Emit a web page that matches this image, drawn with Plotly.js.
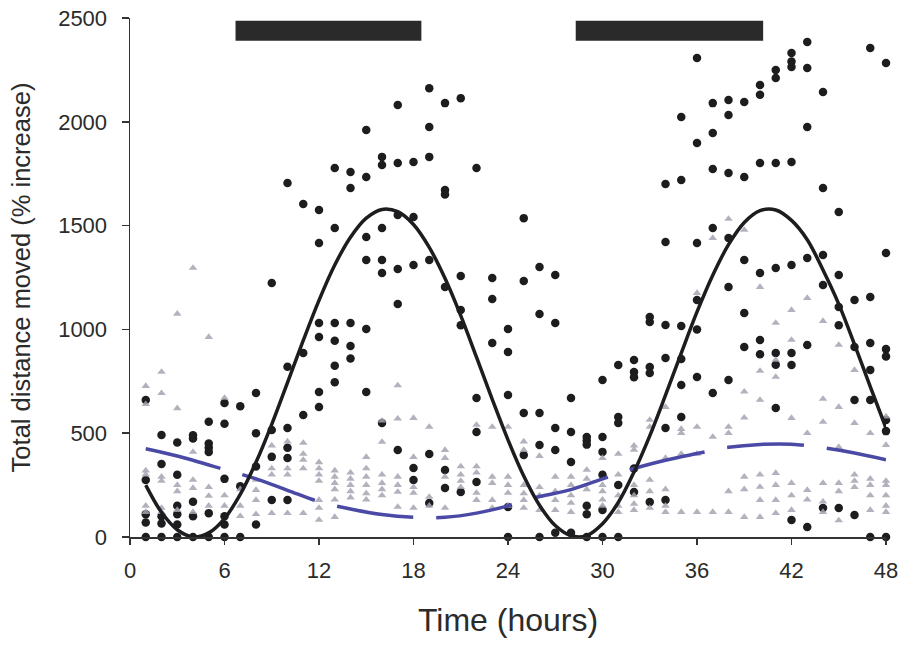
<!DOCTYPE html>
<html>
<head>
<meta charset="utf-8">
<script src="https://cdn.plot.ly/plotly-3.0.1.min.js"></script>
<style>html,body{margin:0;padding:0;background:#fff;}#chart{width:901px;height:646px;}</style>
</head>
<body>
<div id="chart"></div>
<script>
// Hours 1..48 (index = hour - 1)
const hours = [1,2,3,4,5,6,7,8,9,10,11,12,13,14,15,16,17,18,19,20,21,22,23,24,25,26,27,28,29,30,31,32,33,34,35,36,37,38,39,40,41,42,43,44,45,46,47,48];

const blackByHour = [
  [660,275,110,70,0],[491,352,100,65,0],[455,300,150,110,60,0],[490,475,170,100,0],
  [555,450,430,410,115,0],[645,545,280,100,60,0],[630,245,0],[694,500,340,60],
  [1223,515,386,178],[1705,820,525,430,380,178],[1604,886,588],[1575,1416,1031,963,698,626],
  [1777,1488,1031,945,825,745],[1758,1681,1031,920,860],[1960,1734,1445,1334,1002,698],[1831,1792,1488,1334,1272,549],
  [2081,1801,1551,1291,1122,419],[1806,1541,1310,332,275],[2162,1975,1831,1334,400,164],[2090,1671,1650,1204,323,236],
  [2114,1257,1093,1020,217],[1777,670,506,265],[1248,1146,935],[1002,891,684,145,0],
  [1536,1233,597,395],[1301,1074,597,443,0],[1262,1031,525,419,20],[670,506,361,20],
  [482,465,445,150,110,0],[756,482,410,300,130,0],[829,578,549,250,0],[853,795,770,330,217],
  [1060,1036,819,790,169],[1700,1421,1021,862,525,178],[2023,1720,1016,857,732,578],[2307,1898,1416,1142,1000,771],
  [2090,1946,1773,1488,694],[2105,2033,1753,1440,1204,756],[2095,1734,1334,1079,915],[2177,2130,1801,1272,949,880],
  [2250,2211,1801,1296,886,830,621],[2331,2290,2264,1806,1310,886,829,82],[2384,2259,1975,1344,925,48],[2143,1681,1358,1214,140],
  [1566,1262,1108,1020,140],[1142,915,660,106],[2355,1156,935,805,660,0],[2283,1368,905,870,564,510,0]
];

const grayByHour = [
  [727,640,320,300,150,120],[795,693,290,270,140,120],[1075,620,250,220,130],[1296,410,275,236,120],
  [963,240,198,150],[670,200,150],[230,150,100],[275,226,178,110],
  [440,330,300,115],[460,330,300,115],[453,400,371,330,115],[360,330,300,270,178,140,82],
  [320,290,260,230,180,96],[310,280,250,220,190],[385,330,290,250,210,180],[560,458,300,260,230,200],
  [730,570,290,250,217,145],[573,385,240,212,140],[530,193,150],[419,380,290,140],
  [340,300,270,240],[540,340,310,212,178],[530,290,260,178,140],[530,290,250,212,150],
  [460,419,250,210,178,140],[390,240,200,130],[290,220,178,130],[290,250,200,164,120],
  [323,280,230],[380,250,220,180,150],[400,300,200,150,120],[440,420,250,200,160,130],
  [564,530,275,220,140],[626,380,230,150,120],[520,500,400,120],[1175,530,400,120],
  [1440,482,120],[1532,530,500,220,120],[1479,700,575,290,230,96],[1204,800,660,300,241,178,96],
  [1031,853,771,308,250,178,115],[1093,949,573,260,200,130],[1151,500,226,180],[1040,665,554,260,170,120],
  [925,626,433,260,220,80],[804,549,300,270,240],[500,280,250,200,130],[580,443,270,250,200,150,120]
];

// Fitted curve (solid black), read at each hour
const fitBlack = [250,119,35,0,20,89,205,360,543,744,947,1140,1310,1444,1536,1578,1567,1505,1395,1246,1066,866,663,468,294,153,55,6,7,64,166,313,487,683,886,1084,1261,1408,1515,1572,1575,1525,1432,1286,1122,928,724,525];

// Fitted curve (dashed blue)
const fitBlueX = [1,3,6,8,10,12,14,16,18,20,22,24,26,28,30,32,34,36,38,40,42,44,46,48];
const fitBlueY = [425,390,325,280,225,170,135,108,95,95,115,150,195,228,280,330,370,402,432,446,447,430,405,372];

// Dark-phase bars (hours) and their vertical extent
const darkBars = [[6.7,18.5],[28.3,40.2]];
const barY = [2390,2487];

const xTicks = [0,6,12,18,24,30,36,42,48];
const yTicks = [0,500,1000,1500,2000,2500];

function flatten(byHour){
  const xs=[], ys=[];
  byHour.forEach((vals,i)=>vals.forEach(v=>{xs.push(hours[i]); ys.push(v);}));
  return {xs, ys};
}
const blk = flatten(blackByHour);
const gry = flatten(grayByHour);

const FONT = 'Liberation Sans, Arial, sans-serif';

const traces = [
  {x: blk.xs, y: blk.ys, type:'scatter', mode:'markers', cliponaxis:false,
   marker:{symbol:'circle', size:8.5, color:'#1d1d1f'}, hoverinfo:'skip'},
  {x: gry.xs, y: gry.ys, type:'scatter', mode:'markers', cliponaxis:false,
   marker:{symbol:'triangle-up', size:7.5, color:'rgba(165,165,178,0.85)'}, hoverinfo:'skip'},
  {x: fitBlueX, y: fitBlueY, type:'scatter', mode:'lines',
   line:{color:'#4a4aa6', width:3.5, dash:'77px,23px', shape:'spline'}, hoverinfo:'skip'},
  {x: hours, y: fitBlack, type:'scatter', mode:'lines',
   line:{color:'#1d1d1f', width:3.5, shape:'spline'}, hoverinfo:'skip'}
];

const shapes = darkBars.map(b=>({type:'rect', xref:'x', yref:'y', x0:b[0], x1:b[1], y0:barY[0], y1:barY[1],
  fillcolor:'#2a2a2a', line:{width:0}, layer:'above'}));

const layout = {
  width:901, height:646,
  margin:{l:130, r:15, t:18, b:109},
  paper_bgcolor:'#ffffff', plot_bgcolor:'#ffffff',
  showlegend:false,
  font:{family:FONT, color:'#2b2b2b'},
  shapes: shapes,
  xaxis:{range:[0,48], tickvals:xTicks, ticktext:xTicks.map(String), showgrid:false, zeroline:false,
    showline:true, linecolor:'#333', linewidth:1.5, ticks:'outside', ticklen:6, tickwidth:1.5, tickcolor:'#333',
    ticklabelstandoff:7,
    tickfont:{family:FONT, size:22, color:'#2b2b2b'},
    title:{text:'Time (hours)', font:{family:FONT, size:32, color:'#2b2b2b'}, standoff:26}},
  yaxis:{range:[0,2500], tickvals:yTicks, ticktext:yTicks.map(String), showgrid:false, zeroline:false,
    showline:true, linecolor:'#333', linewidth:1.5, ticks:'outside', ticklen:7, tickwidth:1.5, tickcolor:'#333',
    ticklabelstandoff:10,
    tickfont:{family:FONT, size:22, color:'#2b2b2b'},
    title:{text:'Total distance moved (% increase)', font:{family:FONT, size:25.5, color:'#2b2b2b'}, standoff:20}}
};

Plotly.newPlot('chart', traces, layout, {staticPlot:true, displayModeBar:false});
</script>
</body>
</html>
